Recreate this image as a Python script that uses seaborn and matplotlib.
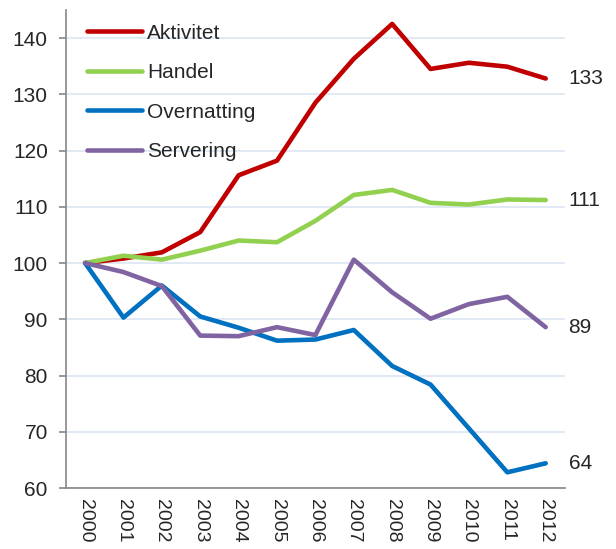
import matplotlib
matplotlib.use("Agg")
import matplotlib.pyplot as plt
import numpy as np
import pandas as pd
import seaborn as sns
from matplotlib.lines import Line2D

# Data (index, 2000 = 100)
years = list(range(2000, 2013))
aktivitet = [100, 100.8, 101.9, 105.5, 115.6, 118.2, 128.5, 136.3, 142.5, 134.5, 135.6, 134.9, 132.8]
handel = [100, 101.3, 100.6, 102.2, 104.0, 103.7, 107.5, 112.1, 113.0, 110.7, 110.4, 111.3, 111.2]
overnatting = [100, 90.3, 96.0, 90.5, 88.5, 86.2, 86.4, 88.1, 81.7, 78.4, 70.6, 62.8, 64.4]
servering = [100, 98.4, 95.9, 87.1, 87.0, 88.6, 87.2, 100.6, 94.8, 90.1, 92.7, 94.0, 88.6]
end_labels = ["133", "111", "64", "89"]

series = {
    "Aktivitet": aktivitet,
    "Handel": handel,
    "Overnatting": overnatting,
    "Servering": servering,
}
colors = {
    "Aktivitet": "#C00000",
    "Handel": "#92D050",
    "Overnatting": "#0070C0",
    "Servering": "#8064A2",
}

df = pd.DataFrame(
    [(name, y, v) for name, vals in series.items() for y, v in zip(years, vals)],
    columns=["serie", "year", "value"],
)

sns.set_style("white")
plt.rcParams["font.family"] = ["Liberation Sans", "DejaVu Sans"]

fig = plt.figure(figsize=(6.16, 5.49), dpi=100)
ax = fig.add_axes([0.107, 0.111, 0.81, 0.871])

sns.lineplot(data=df, x="year", y="value", hue="serie", palette=colors,
             linewidth=3.3, ax=ax, legend=False)

ax.set_xlim(years[0] - 0.5, years[-1] + 0.5)
ax.set_ylim(60, 145)
ax.set_yticks(range(60, 141, 10))
ax.yaxis.grid(True, color="#DCE6F2", linewidth=1.2)
ax.set_axisbelow(True)

ax.set_xticks(years)
ax.set_xticklabels([str(y) for y in years], rotation=-90)
ax.set_xticks(np.arange(years[0] - 0.5, years[-1] + 0.6, 1), minor=True)
ax.tick_params(axis="x", which="major", length=0, pad=8, labelsize=14)
ax.tick_params(axis="x", which="minor", length=5, width=1.2, color="#868686", direction="out")
ax.tick_params(axis="y", which="major", length=5, width=1.2, color="#868686",
               direction="out", labelsize=15, pad=8, left=True)
ax.set_xlabel("")
ax.set_ylabel("")

for side in ["top", "right"]:
    ax.spines[side].set_visible(False)
for side in ["left", "bottom"]:
    ax.spines[side].set_color("#868686")
    ax.spines[side].set_linewidth(1.2)

# end values
for name, lab in zip(["Aktivitet", "Handel", "Overnatting", "Servering"], end_labels):
    ax.annotate(lab, xy=(years[-1], series[name][-1]), xytext=(16.5, 0),
                textcoords="offset points", va="center", ha="left", fontsize=15,
                annotation_clip=False)

handles = [Line2D([], [], color=colors[n], linewidth=3.3) for n in series]
ax.legend(handles, list(series), loc="upper left", bbox_to_anchor=(0.042, 0.971),
          frameon=False, fontsize=15, handlelength=2.64, handletextpad=0.24,
          labelspacing=0.98, borderpad=0, borderaxespad=0)

fig.savefig("out.png", dpi=100)
